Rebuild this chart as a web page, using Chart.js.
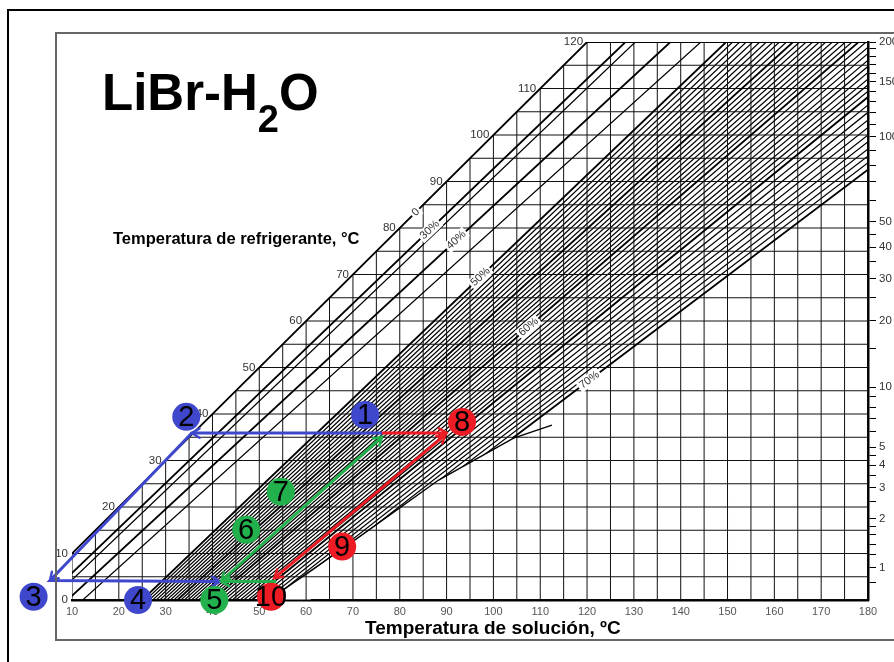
<!DOCTYPE html>
<html>
<head>
<meta charset="utf-8">
<title>LiBr-H2O</title>
<script src="https://cdn.jsdelivr.net/npm/chart.js@4.4.1/dist/chart.umd.min.js"></script>
<style>
  html, body { margin: 0; padding: 0; background: #fff; }
  #wrap { width: 894px; height: 662px; }
</style>
</head>
<body>
<div id="wrap"><canvas id="duhring" width="894" height="662"></canvas></div>
<script>
// solution temperature (x) and refrigerant temperature (y) grid, ºC
var solTicks = [10, 15, 20, 25, 30, 35, 40, 45, 50, 55, 60, 65, 70, 75, 80, 85, 90, 95, 100,
  105, 110, 115, 120, 125, 130, 135, 140, 145, 150, 155, 160, 165, 170, 175, 180];
var refTicks = [0, 5, 10, 15, 20, 25, 30, 35, 40, 45, 50, 55, 60, 65, 70, 75, 80, 85, 90, 95,
  100, 105, 110, 115, 120];
var refLabels = [0, 10, 20, 30, 40, 50, 60, 70, 80, 90, 100, 110, 120];

// pressure scale on the right (kPa) and the refrigerant temperature it sits at
var pressKPa = [0.8, 1, 1.2, 1.4, 1.6, 1.8, 2, 2.5, 3, 3.5, 4, 4.5, 5, 6, 7, 8, 9, 10, 15, 20,
  25, 30, 35, 40, 45, 50, 60, 70, 80, 90, 100, 110, 120, 130, 140, 150, 160, 170, 180, 190, 200];
var pressRef = [3.8, 7.0, 9.7, 12.0, 14.0, 15.8, 17.5, 21.1, 24.1, 26.7, 29.0, 31.0, 32.9, 36.2,
  39.0, 41.5, 43.8, 45.8, 54.0, 60.1, 65.0, 69.1, 72.7, 75.9, 78.7, 81.3, 85.9, 89.9, 93.5,
  96.7, 99.6, 102.3, 104.8, 107.1, 109.3, 111.4, 113.3, 115.2, 116.9, 118.6, 120];
var pressLabeled = [1, 2, 3, 4, 5, 10, 20, 30, 40, 50, 100, 150, 200];

// concentration lines: solution temp where each line is at refrigerant 0 and 120 ºC
var concNames = ['0', '30%', '35%', '40%', '45%', '50%', '55%', '60%', '65%', '70%'];
var concSolAt0 = [0, 4, 5.5, 9, 12.3, 25, 32.5, 40, 48.4, 58.3];
var concSolAt120 = [120, 128.2, 130.3, 137.8, 144.3, 149.7, 164, 178, 194.4, 216.1];
var concFromRef = [0, 0, 0, 0, 0, 0, 0, 0, 0, 34.8];
var concBold = [true, true, false, true, false, true, true, true, true, true];
var concLabelRef = [83.4, 79.6, null, 77.4, null, 69.5, null, 58.7, null, 47.3];

// thin lines of the hatched band (50-70 %)
var hatchSolAt0 = [25.75, 26.5, 27.25, 28, 28.75, 29.5, 30.25, 31, 31.75,
  33.25, 34, 34.75, 35.5, 36.25, 37, 37.75, 38.5, 39.25,
  40.8, 41.7, 42.5, 43.4, 44.2, 45.0, 45.9, 46.7, 47.6,
  49.4, 50.4, 51.4, 52.4, 53.4, 54.3, 55.3, 56.3, 57.3];
var hatchSolAt120 = [151.1, 152.6, 154.0, 155.4, 156.9, 158.3, 159.7, 161.1, 162.6,
  165.4, 166.8, 168.2, 169.6, 171.0, 172.4, 173.8, 175.2, 176.6,
  179.6, 181.3, 182.9, 184.6, 186.2, 187.8, 189.5, 191.1, 192.8,
  196.6, 198.7, 200.9, 203.1, 205.3, 207.4, 209.6, 211.8, 213.9];

// crystallization line
var crystalSol = [52, 70, 88.3, 104.3, 112.5];
var crystalRef = [0, 12.6, 25.8, 34.8, 37.6];

// cycle states (numbered circles)
var stateNames = ['1', '2', '3', '4', '5', '6', '7', '8', '9', '10'];
var stateSol = [72.6, 34.4, 1.8, 24.1, 40.4, 47.2, 54.6, 93.3, 67.7, 52.5];
var stateRef = [39.8, 39.4, 0.7, 0, 0, 15.1, 23.3, 38.3, 11.5, 0.7];
var stateColor = ['#3f48cc', '#3f48cc', '#3f48cc', '#3f48cc', '#22b14c', '#22b14c', '#22b14c',
  '#ed1c24', '#ed1c24', '#ed1c24'];

// cycle paths
var blueSol = [76.2, 35.6, 5.3, 41.6];
var blueRef = [35.9, 35.9, 4.2, 4.0];
var greenLowSol = [53.6, 41.9];
var greenLowRef = [4.0, 4.0];
var greenUpSol = [41.9, 76.2];
var greenUpRef = [4.1, 35.1];
var redTopSol = [76.2, 90.0];
var redTopRef = [35.9, 35.9];
var redDownSol = [89.7, 53.2];
var redDownRef = [35.5, 4.7];

var FONT = "'Liberation Sans', Arial, sans-serif";
Chart.defaults.font.family = FONT;

function pt(s, t) { return {x: s, y: t}; }
function gap() { return {x: null, y: null}; }
function zipPts(xs, ys) { return xs.map(function(v, i) { return pt(v, ys[i]); }); }
function solOnLine(i, t) { return concSolAt0[i] + (concSolAt120[i] - concSolAt0[i]) * t / 120; }

var solMin = solTicks[0], solMax = solTicks[solTicks.length - 1];
var refMin = refTicks[0], refMax = refTicks[refTicks.length - 1];

var gridPts = [];
refTicks.forEach(function(t) {
  gridPts.push(pt(Math.max(t, solMin), t), pt(solMax, t), gap());
});
solTicks.forEach(function(s) {
  gridPts.push(pt(s, refMin), pt(s, Math.min(s, refMax)), gap());
});

var hatchPts = [];
hatchSolAt0.forEach(function(s0, i) {
  hatchPts.push(pt(s0, 0), pt(hatchSolAt120[i], 120), gap());
});

var boldPts = [], thinPts = [];
concNames.forEach(function(n, i) {
  var t0 = concFromRef[i];
  var seg = [pt(solOnLine(i, t0), t0), pt(concSolAt120[i], 120), gap()];
  if (concBold[i]) boldPts.push.apply(boldPts, seg); else thinPts.push.apply(thinPts, seg);
});

function lineSet(label, data, color, width, order, extra) {
  var d = {label: label, data: data, showLine: true, borderColor: color, borderWidth: width,
    pointRadius: 0, fill: false, order: order};
  for (var k in extra) d[k] = extra[k];
  return d;
}

function px(chart, s, t) {
  return {x: chart.scales.x.getPixelForValue(s), y: chart.scales.y.getPixelForValue(t)};
}

function drawMask(chart) {
  var ctx = chart.ctx, a = chart.chartArea;
  ctx.save();
  ctx.beginPath();
  ctx.rect(a.left, a.top, a.right - a.left, a.bottom - a.top);
  ctx.clip();
  ctx.beginPath();
  for (var i = 0; i < 4; i++) {
    var p = px(chart, crystalSol[i], crystalRef[i]);
    if (i === 0) ctx.moveTo(p.x, p.y + 2); else ctx.lineTo(p.x, p.y);
  }
  var q = px(chart, solOnLine(9, concFromRef[9]) + 1, concFromRef[9]);
  ctx.lineTo(q.x, q.y);
  var r = px(chart, concSolAt0[9] + 2, 0);
  ctx.lineTo(r.x, r.y + 2);
  ctx.closePath();
  ctx.fillStyle = '#fff';
  ctx.fill();
  ctx.restore();
}

function drawLineLabels(chart) {
  var ctx = chart.ctx;
  ctx.save();
  ctx.font = '11px ' + FONT;
  ctx.textAlign = 'center';
  ctx.textBaseline = 'middle';
  concNames.forEach(function(n, i) {
    var t = concLabelRef[i];
    if (t === null) return;
    var p = px(chart, solOnLine(i, t), t);
    var a = px(chart, concSolAt0[i], 0), b = px(chart, concSolAt120[i], 120);
    var ang = Math.atan2(b.y - a.y, b.x - a.x);
    var w = ctx.measureText(n).width + 4;
    ctx.save();
    ctx.translate(p.x, p.y);
    ctx.rotate(ang);
    ctx.fillStyle = '#fff';
    ctx.fillRect(-w / 2, -6, w, 12);
    ctx.fillStyle = '#333';
    ctx.fillText(n, 0, 0);
    ctx.restore();
  });
  // refrigerant temperatures along the 0 % line
  ctx.font = '11.5px ' + FONT;
  ctx.textAlign = 'right';
  refLabels.forEach(function(t) {
    var p = px(chart, Math.max(t, solMin), t);
    ctx.fillStyle = '#333';
    ctx.fillText(String(t), p.x - 4, p.y);
  });
  ctx.restore();
}

function drawArrows(chart, ds) {
  var ctx = chart.ctx;
  ctx.save();
  ctx.strokeStyle = ds.borderColor;
  ctx.lineWidth = 2.5;
  ctx.lineCap = 'round';
  ds.arrows.forEach(function(pair) {
    var f = ds.data[pair[0]], e = ds.data[pair[1]];
    var a = px(chart, f.x, f.y), b = px(chart, e.x, e.y);
    var ang = Math.atan2(b.y - a.y, b.x - a.x);
    var len = 9, spread = 0.55;
    ctx.beginPath();
    ctx.moveTo(b.x - len * Math.cos(ang - spread), b.y - len * Math.sin(ang - spread));
    ctx.lineTo(b.x, b.y);
    ctx.lineTo(b.x - len * Math.cos(ang + spread), b.y - len * Math.sin(ang + spread));
    ctx.stroke();
  });
  ctx.restore();
}

var sheet = {
  id: 'sheet',
  beforeDraw: function(chart) {
    var ctx = chart.ctx;
    ctx.save();
    ctx.fillStyle = '#fff';
    ctx.fillRect(0, 0, chart.width, chart.height);
    ctx.restore();
  },
  afterDatasetDraw: function(chart, args) {
    var ds = chart.data.datasets[args.index];
    if (ds.label === 'hatch') drawMask(chart);
    if (ds.label === 'concBold') drawLineLabels(chart);
    if (ds.arrows) drawArrows(chart, ds);
  },
  afterDatasetsDraw: function(chart) {
    // numbered state circles, placed with the chart scales
    var ctx = chart.ctx;
    ctx.save();
    stateNames.forEach(function(n, i) {
      var p = px(chart, stateSol[i], stateRef[i]);
      ctx.beginPath();
      ctx.arc(p.x, p.y, 14, 0, Math.PI * 2);
      ctx.fillStyle = stateColor[i];
      ctx.fill();
    });
    ctx.font = '29px ' + FONT;
    ctx.textAlign = 'center';
    ctx.textBaseline = 'middle';
    ctx.fillStyle = '#000';
    stateNames.forEach(function(n, i) {
      var p = px(chart, stateSol[i], stateRef[i]);
      ctx.fillText(n, p.x, p.y + 1);
    });
    ctx.restore();
  },
  afterDraw: function(chart) {
    var ctx = chart.ctx;
    ctx.save();
    // frames
    ctx.strokeStyle = '#000';
    ctx.lineWidth = 2;
    ctx.strokeRect(8, 10, 900, 700);
    ctx.strokeStyle = '#666';
    ctx.strokeRect(56, 33, 860, 607);
    // title
    ctx.fillStyle = '#000';
    ctx.textBaseline = 'alphabetic';
    ctx.textAlign = 'left';
    ctx.font = 'bold 51px ' + FONT;
    var w1 = ctx.measureText('LiBr-H').width;
    ctx.fillText('LiBr-H', 102, 110);
    ctx.font = 'bold 38px ' + FONT;
    var w2 = ctx.measureText('2').width;
    ctx.fillText('2', 102 + w1, 132);
    ctx.font = 'bold 51px ' + FONT;
    ctx.fillText('O', 102 + w1 + w2, 110);
    // axis titles
    ctx.font = 'bold 16.5px ' + FONT;
    ctx.fillText('Temperatura de refrigerante, °C', 113, 244);
    ctx.font = 'bold 19px ' + FONT;
    ctx.fillText('Temperatura de solución, ºC', 365, 634);
    ctx.restore();
  }
};

new Chart(document.getElementById('duhring'), {
  type: 'scatter',
  data: {
    datasets: [
      lineSet('blue', zipPts(blueSol, blueRef), '#3f48cc', 3, 4, {clip: false, arrows: [[0, 1], [1, 2], [2, 3]]}),
      lineSet('greenLow', zipPts(greenLowSol, greenLowRef), '#22b14c', 3, 3, {clip: false, arrows: [[0, 1]]}),
      lineSet('greenUp', zipPts(greenUpSol, greenUpRef), '#22b14c', 3, 3, {clip: false, arrows: [[0, 1], [1, 0]]}),
      lineSet('redTop', zipPts(redTopSol, redTopRef), '#ed1c24', 3, 2, {clip: false, arrows: [[0, 1]]}),
      lineSet('redDown', zipPts(redDownSol, redDownRef), '#ed1c24', 3, 2, {clip: false, arrows: [[0, 1], [1, 0]]}),
      lineSet('concBold', boldPts, '#000', 1.8, 6),
      lineSet('concThin', thinPts, '#000', 1.2, 7),
      lineSet('crystal', zipPts(crystalSol, crystalRef), '#000', 1.4, 8),
      lineSet('frameTop', [pt(120, 120), pt(180, 120)], '#000', 2, 9),
      lineSet('grid', gridPts, '#111', 1, 10),
      lineSet('hatch', hatchPts, '#000', 1.2, 12)
    ]
  },
  options: {
    responsive: false,
    animation: false,
    events: [],
    layout: {padding: {left: 72, top: 42, right: 0, bottom: 0}},
    plugins: {legend: {display: false}, tooltip: {enabled: false}},
    scales: {
      x: {
        type: 'linear', min: 10, max: 180, position: 'bottom',
        grid: {display: false, drawTicks: false},
        border: {display: true, color: '#000', width: 2.5},
        ticks: {stepSize: 10, color: '#555', font: {size: 11}, padding: 5, maxRotation: 0, autoSkip: false},
        afterFit: function(s) { s.height = 62; }
      },
      y: {type: 'linear', min: 0, max: 120, display: false},
      yP: {
        type: 'linear', min: 0, max: 120, position: 'right',
        grid: {display: true, drawOnChartArea: false, drawTicks: true, tickLength: 8, color: '#000', lineWidth: 1},
        border: {display: true, color: '#000', width: 2.5},
        afterBuildTicks: function(s) { s.ticks = pressRef.map(function(v) { return {value: v}; }); },
        ticks: {
          autoSkip: false, padding: 3, color: '#333', font: {size: 11.5},
          callback: function(v, i) {
            var p = pressKPa[i];
            return pressLabeled.indexOf(p) >= 0 ? String(p) : '';
          }
        },
        afterFit: function(s) { s.width = 26; }
      }
    }
  },
  plugins: [sheet]
});
</script>
</body>
</html>
